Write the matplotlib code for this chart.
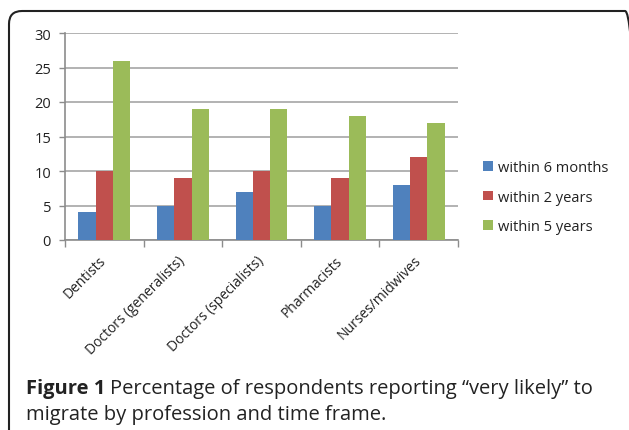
import matplotlib
matplotlib.use("Agg")
import matplotlib.pyplot as plt
from matplotlib.patches import FancyBboxPatch
import numpy as np

# данные с рисунка
professions = ["Dentists", "Doctors (generalists)", "Doctors (specialists)",
               "Pharmacists", "Nurses/midwives"]
within_6_months = [4, 5, 7, 5, 8]
within_2_years = [10, 9, 10, 9, 12]
within_5_years = [26, 19, 19, 18, 17]
series_names = ["within 6 months", "within 2 years", "within 5 years"]
colors = ["#4F81BD", "#C0504D", "#9BBB59"]

plt.rcParams["font.family"] = ["Open Sans", "DejaVu Sans"]

fig = plt.figure(figsize=(6.29, 4.31), dpi=100)
ax = fig.add_axes([65/629, 1-241/431, (458-65)/629, (241-34)/431])

x = np.arange(len(professions))
w = 0.22
for i, vals in enumerate([within_6_months, within_2_years, within_5_years]):
    ax.bar(x + (i-1)*w, vals, w, color=colors[i], label=series_names[i], zorder=3)

ax.set_xlim(-0.5, len(professions)-0.5)
ax.set_ylim(0, 30)
ax.set_yticks(range(0, 31, 5))
ax.grid(axis="y", color="#a6a6a6", linewidth=1.2, zorder=0)

# засечки между категориями
ax.set_xticks(np.arange(-0.5, len(professions)), minor=False)
ax.set_xticklabels([])
ax.set_xticks(x, minor=True)
ax.set_xticklabels(professions, minor=True, rotation=45, ha="right", va="center",
                   rotation_mode="anchor", fontsize=10, color="#222222")
ax.tick_params(axis="x", which="minor", length=0, pad=13)
ax.tick_params(axis="x", which="major", length=5, color="#8c8c8c", width=1)
ax.tick_params(axis="y", length=4, color="#8c8c8c", width=1, labelsize=10.5,
               labelcolor="#222222", pad=6)
for s in ["top", "right"]:
    ax.spines[s].set_visible(False)
for s in ["left", "bottom"]:
    ax.spines[s].set_color("#8c8c8c")
    ax.spines[s].set_linewidth(1.2)

fig.legend(loc="upper left", bbox_to_anchor=(470/629, 1-148/431), frameon=False,
           fontsize=10.5, handlelength=0.65, handleheight=0.65, handletextpad=0.4,
           labelspacing=1.0, labelcolor="#222222")

# подпись рисунка
fs = 14.5
fig.text(26/629, 1-394/431, "Figure 1", fontsize=fs, fontweight="bold",
         color="#222222", va="baseline")
fig.text(110/629, 1-394/431, "Percentage of respondents reporting \u201cvery likely\u201d to",
         fontsize=fs, color="#222222", va="baseline")
fig.text(26/629, 1-420/431, "migrate by profession and time frame.",
         fontsize=fs, color="#222222", va="baseline")

# рамка со скругленным углом
box = FancyBboxPatch((9, -30), 638-9, 431-12+30,
                     boxstyle="round,pad=0,rounding_size=13",
                     transform=None, facecolor="none", edgecolor="#222222",
                     linewidth=1.5)
fig.add_artist(box)

fig.savefig("out.png", dpi=100)
